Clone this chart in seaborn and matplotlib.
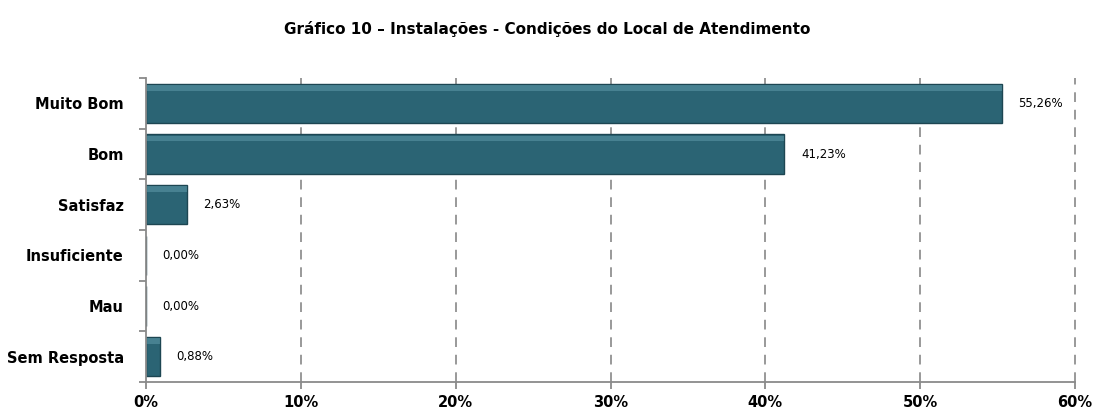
import numpy as np
import pandas as pd
import matplotlib
matplotlib.use("Agg")
import matplotlib.pyplot as plt
import seaborn as sns
from matplotlib.ticker import FixedLocator, PercentFormatter

categories = ["Muito Bom", "Bom", "Satisfaz", "Insuficiente", "Mau", "Sem Resposta"]
values = [55.26, 41.23, 2.63, 0.00, 0.00, 0.88]
value_labels = ["55,26%", "41,23%", "2,63%", "0,00%", "0,00%", "0,88%"]
x_ticks = [0, 10, 20, 30, 40, 50, 60]

sns.set_theme(style="white")
plt.rcParams['font.family'] = ['DejaVu Sans']

df = pd.DataFrame({"categoria": categories, "valor": values})

fig = plt.figure(figsize=(10.94, 4.16), dpi=100)
ax = fig.add_axes([0.1335, 0.0817, 0.8491, 0.7308])

sns.barplot(data=df, y="categoria", x="valor", orient="h", color="#2b6474",
            saturation=1, width=0.78, edgecolor="#1d4652", linewidth=1.0, ax=ax)

# bevel highlight along the top edge
for p in list(ax.patches):
    if p.get_width() > 0:
        y0 = p.get_y(); h = p.get_height()
        ax.barh(y0 + h * 0.04, p.get_width(), height=h * 0.14, left=0,
                color="#6aa6b5", alpha=0.45, linewidth=0, align="edge", zorder=p.get_zorder() + 0.1)

ax.set_xlim(0, 60)
ax.set_ylim(5.5, -0.5)
ax.xaxis.set_major_locator(FixedLocator(x_ticks))
ax.xaxis.set_major_formatter(PercentFormatter(decimals=0))
ax.set_xlabel("")
ax.set_ylabel("")

ax.grid(False)
for xv in x_ticks[1:]:
    ax.axvline(xv, color="#999999", linestyle=(0, (5, 4)), linewidth=1.4, zorder=0, clip_on=False)

for s in ["top", "right"]:
    ax.spines[s].set_visible(False)
for s in ["left", "bottom"]:
    ax.spines[s].set_color("#8a8a8a")
    ax.spines[s].set_linewidth(1.3)

ax.tick_params(axis="y", which="major", length=0, pad=16)
ax.yaxis.set_minor_locator(FixedLocator(np.arange(-0.5, 6.0, 1.0)))
ax.tick_params(axis="y", which="minor", length=5, width=1.3, color="#8a8a8a", left=True, direction="out")
ax.tick_params(axis="x", which="major", length=5, width=1.3, color="#8a8a8a", bottom=True, direction="out", pad=4)

for lab in ax.get_yticklabels():
    lab.set_fontweight("bold"); lab.set_fontsize(10.5); lab.set_color("black")
for lab in ax.get_xticklabels():
    lab.set_fontweight("bold"); lab.set_fontsize(10.5); lab.set_color("black")

for i, (v, t) in enumerate(zip(values, value_labels)):
    ax.annotate(t, xy=(v, i), xytext=(12, 0), textcoords="offset points",
                va="center", ha="left", fontsize=8.5, color="black")

fig.suptitle("Gráfico 10 – Instalações - Condições do Local de Atendimento",
             x=0.5, y=0.95, fontsize=11, fontweight="bold", color="black")

fig.savefig("out.png", dpi=100, facecolor="white")
